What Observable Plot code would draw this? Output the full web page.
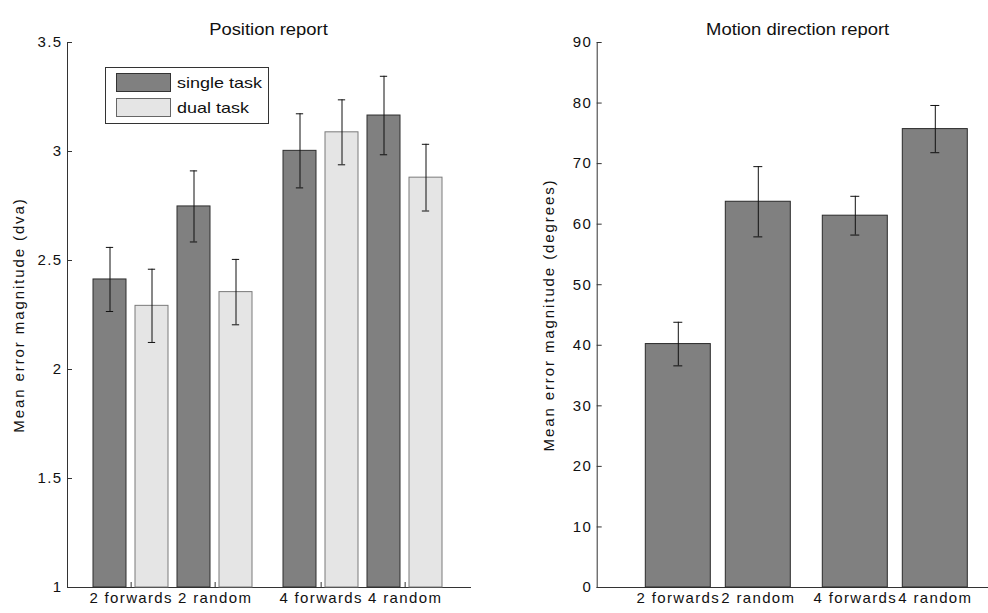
<!DOCTYPE html>
<html>
<head>
<meta charset="utf-8">
<script src="https://cdn.jsdelivr.net/npm/d3@7"></script>
<script src="https://cdn.jsdelivr.net/npm/@observablehq/plot@0.6"></script>
<style>
  html, body { margin: 0; padding: 0; background: #fff; }
  #fig { position: relative; width: 988px; height: 613px; overflow: hidden;
         font-family: "Liberation Sans", Arial, sans-serif; color: #111; }
  .layer { position: absolute; top: 0; }
  .title { position: absolute; top: 21px; height: 18px; line-height: 18px; font-size: 16px;
           text-align: center; transform: scaleX(1.15); transform-origin: center; white-space: nowrap; }
  .legend { position: absolute; left: 105px; top: 67px; width: 162px; height: 55px;
            border: 1px solid #333; background: #fff; }
  .legend .sw { position: absolute; left: 10px; width: 53px; height: 17px; border: 1px solid #333; }
  .legend .lab { position: absolute; left: 71px; font-size: 15px; line-height: 18px; height: 18px;
                 white-space: nowrap; transform: scaleX(1.2); transform-origin: left center; }
  #fig svg text { letter-spacing: 1.35px; }
  #fig svg text[transform*="rotate"] { letter-spacing: 1.9px; }
</style>
</head>
<body>
<div id="fig"></div>
<script>
// ---------------- data ----------------
const groups = ["2", "4"];
const conditions = ["forwards", "random"];
const conditionLabels = ["2 forwards", "2 random", "4 forwards", "4 random"];
const tasks = ["single task", "dual task"];

// Position report: per condition, [single, dual]
const positionMean = [2.413, 2.292, 2.748, 2.355, 3.003, 3.088, 3.165, 2.880];
const positionSem  = [0.147, 0.168, 0.163, 0.150, 0.170, 0.149, 0.180, 0.153];
const positionTicks = [1, 1.5, 2, 2.5, 3, 3.5];

// Motion direction report
const motionMean = [40.2, 63.7, 61.4, 75.7];
const motionSem  = [3.6, 5.8, 3.2, 3.9];
const motionTicks = [0, 10, 20, 30, 40, 50, 60, 70, 80, 90];

const titleLeft = "Position report";
const titleRight = "Motion direction report";
const yLabelLeft = "Mean error magnitude (dva)";
const yLabelRight = "Mean error magnitude (degrees)";

// ---------------- tables ----------------
const slots = conditions.flatMap(c => tasks.map(t => c + " · " + t));
const positionRows = conditionLabels.flatMap((label, c) => tasks.map((task, t) => ({
  group: groups[Math.floor(c / 2)], cond: conditions[c % 2], task,
  slot: conditions[c % 2] + " · " + task, label,
  mean: positionMean[c * 2 + t], sem: positionSem[c * 2 + t]
})));
const positionLabelRows = positionRows.filter(d => d.task === tasks[0]);
const motionRows = conditionLabels.map((label, c) => ({
  group: groups[Math.floor(c / 2)], cond: conditions[c % 2], label,
  mean: motionMean[c], sem: motionSem[c]
}));

// ---------------- layout ----------------
const FONT = '"Liberation Sans", Arial, sans-serif';
const AX = "#333";
const H = 613;
const baseStyle = { background: "transparent", fontFamily: FONT, fontSize: "15px", color: "#111", overflow: "visible" };

const L = { width: 494, height: H, marginLeft: 67, marginRight: 24, marginTop: 42, marginBottom: 26 };
const Lfx = { paddingInner: 0, paddingOuter: 0.0566, align: 0.46 };
const Lx = { paddingInner: 0.203, paddingOuter: 0.356 };
const plotWL = L.width - L.marginLeft - L.marginRight;
const plotH = H - L.marginTop - L.marginBottom;
const facetWL = plotWL / (groups.length + 2 * Lfx.paddingOuter);
const stepL = facetWL / (slots.length - Lx.paddingInner + 2 * Lx.paddingOuter);
const bandL = stepL * (1 - Lx.paddingInner);
const capL = 8;

const R = { width: 510, height: H, marginLeft: 102.7, marginRight: 6, marginTop: 42, marginBottom: 26 };
const Rfx = { paddingInner: 0, paddingOuter: 0.1327, align: 0.675 };
const Rx = { paddingInner: 0.1915, paddingOuter: 0.197 };
const plotWR = R.width - R.marginLeft - R.marginRight;
const facetWR = plotWR / (groups.length + 2 * Rfx.paddingOuter);
const stepR = facetWR / (conditions.length - Rx.paddingInner + 2 * Rx.paddingOuter);
const bandR = stepR * (1 - Rx.paddingInner);
const capR = 9;

// ---------------- left panel ----------------
const axesLeft = Plot.plot({
  ...L, style: baseStyle,
  x: { domain: [0, 1], axis: null },
  y: { domain: [positionTicks[0], positionTicks[positionTicks.length - 1]], label: null },
  marks: [
    Plot.frame({ anchor: "left", stroke: AX }),
    Plot.frame({ anchor: "bottom", stroke: AX }),
    Plot.tickY(positionTicks, { y: d => d, insetRight: plotWL - 5, stroke: AX }),
    Plot.axisY(positionTicks, { tickSize: 0, tickPadding: 5, tickFormat: d => String(d), label: null }),
    Plot.text([yLabelLeft], { text: d => d, frameAnchor: "left", textAnchor: "middle", rotate: -90, dx: -48 })
  ]
});

const barsLeft = Plot.plot({
  ...L, style: baseStyle,
  fx: { domain: groups, ...Lfx, axis: null, label: null },
  x: { domain: slots, ...Lx, align: 0.5, axis: null, label: null },
  y: { domain: [positionTicks[0], positionTicks[positionTicks.length - 1]], axis: null },
  marks: [
    Plot.barY(positionRows, { filter: d => d.task === tasks[0], fx: "group", x: "slot",
      y1: positionTicks[0], y2: "mean", fill: "#808080", stroke: "#2e2e2e" }),
    Plot.barY(positionRows, { filter: d => d.task === tasks[1], fx: "group", x: "slot",
      y1: positionTicks[0], y2: "mean", fill: "#e5e5e5", stroke: "#7a7a7a" }),
    Plot.ruleX(positionRows, { fx: "group", x: "slot", y1: d => d.mean - d.sem, y2: d => d.mean + d.sem, stroke: "#111" }),
    Plot.tickY(positionRows, { fx: "group", x: "slot", y: d => d.mean + d.sem,
      insetLeft: (bandL - capL) / 2, insetRight: (bandL - capL) / 2, stroke: "#111" }),
    Plot.tickY(positionRows, { fx: "group", x: "slot", y: d => d.mean - d.sem,
      insetLeft: (bandL - capL) / 2, insetRight: (bandL - capL) / 2, stroke: "#111" }),
    Plot.tickX(positionLabelRows, { fx: "group", x: "slot", dx: stepL / 2, insetTop: plotH - 5, stroke: AX }),
    Plot.text(positionLabelRows, { fx: "group", x: "slot", dx: stepL / 2, text: "label",
      frameAnchor: "bottom", dy: 15 })
  ]
});

// ---------------- right panel ----------------
const axesRight = Plot.plot({
  ...R, style: baseStyle,
  x: { domain: [0, 1], axis: null },
  y: { domain: [motionTicks[0], motionTicks[motionTicks.length - 1]], label: null },
  marks: [
    Plot.frame({ anchor: "left", stroke: AX }),
    Plot.frame({ anchor: "bottom", stroke: AX }),
    Plot.tickY(motionTicks, { y: d => d, insetRight: plotWR - 5, stroke: AX }),
    Plot.axisY(motionTicks, { tickSize: 0, tickPadding: 5, tickFormat: d => String(d), label: null }),
    Plot.text([yLabelRight], { text: d => d, frameAnchor: "left", textAnchor: "middle", rotate: -90, dx: -48 })
  ]
});

const barsRight = Plot.plot({
  ...R, style: baseStyle,
  fx: { domain: groups, ...Rfx, axis: null, label: null },
  x: { domain: conditions, ...Rx, align: 0.5, axis: null, label: null },
  y: { domain: [motionTicks[0], motionTicks[motionTicks.length - 1]], axis: null },
  marks: [
    Plot.barY(motionRows, { fx: "group", x: "cond", y1: motionTicks[0], y2: "mean", fill: "#808080", stroke: "#2a2a2a" }),
    Plot.ruleX(motionRows, { fx: "group", x: "cond", y1: d => d.mean - d.sem, y2: d => d.mean + d.sem, stroke: "#111" }),
    Plot.tickY(motionRows, { fx: "group", x: "cond", y: d => d.mean + d.sem,
      insetLeft: (bandR - capR) / 2, insetRight: (bandR - capR) / 2, stroke: "#111" }),
    Plot.tickY(motionRows, { fx: "group", x: "cond", y: d => d.mean - d.sem,
      insetLeft: (bandR - capR) / 2, insetRight: (bandR - capR) / 2, stroke: "#111" }),
    Plot.text(motionRows, { fx: "group", x: "cond", text: "label", frameAnchor: "bottom", dy: 15 })
  ]
});

// ---------------- assemble ----------------
const fig = document.getElementById("fig");
function place(node, left) {
  node.classList.add("layer");
  node.style.left = left + "px";
  fig.appendChild(node);
}
place(axesLeft, 0);
place(barsLeft, 0);
place(axesRight, 494);
place(barsRight, 494);

function addTitle(text, left, width) {
  const t = document.createElement("div");
  t.className = "title";
  t.style.left = left + "px";
  t.style.width = width + "px";
  t.textContent = text;
  fig.appendChild(t);
}
addTitle(titleLeft, L.marginLeft, plotWL);
addTitle(titleRight, 494 + R.marginLeft, plotWR);

const legend = document.createElement("div");
legend.className = "legend";
const legendStyles = [
  { fill: "#808080", stroke: "#333", top: 5 },
  { fill: "#e5e5e5", stroke: "#666", top: 30 }
];
tasks.forEach((task, i) => {
  const sw = document.createElement("div");
  sw.className = "sw";
  sw.style.top = legendStyles[i].top + "px";
  sw.style.background = legendStyles[i].fill;
  sw.style.borderColor = legendStyles[i].stroke;
  legend.appendChild(sw);
  const lab = document.createElement("div");
  lab.className = "lab";
  lab.style.top = (legendStyles[i].top + 1) + "px";
  lab.textContent = task;
  legend.appendChild(lab);
});
fig.appendChild(legend);
</script>
</body>
</html>
